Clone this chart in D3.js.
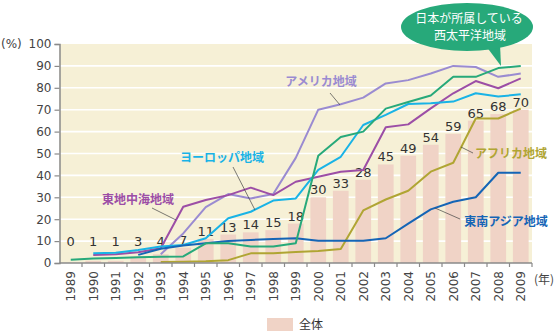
<!DOCTYPE html>
<html><head><meta charset="utf-8">
<script src="https://cdn.jsdelivr.net/npm/d3@7"></script>
<style>
html,body{margin:0;padding:0;background:#fff;}
svg{display:block;}
</style></head>
<body>
<svg id="chart" width="558" height="334"></svg>
<script>
// ---------- data ----------
const years = ['1989','1990','1991','1992','1993','1994','1995','1996','1997','1998','1999','2000','2001','2002','2003','2004','2005','2006','2007','2008','2009'];
const totalValues = [0,1,1,3,4,7,11,13,14,15,18,30,33,38,45,49,54,59,65,68,70];
const totalLabels = ['0','1','1','3','4','7','11','13','14','15','18','30','33','28','45','49','54','59','65','68','70'];
const westernPacific = [1.5,2,2.3,2.6,2.9,3,9,9,7.5,7.5,9,49,57.5,60,70.5,73.5,76.5,85,85,89,90];
const americas = [null,null,null,null,4,13.5,25.5,31.5,29.5,31.5,48,70,72.5,75.5,82,83.5,86.5,90,89.5,85,86.5];
const eastMed = [null,3.7,4,4.9,6.7,25.7,28.8,31,34.4,31,37.1,39.4,41.7,42.5,62,63.3,70.6,77.5,83.1,79.8,84.3];
const europe = [null,4.4,4.7,5.9,7.5,8.2,11.3,20.4,23.4,28.5,29.5,42.5,48.5,63,67.6,72.6,72.9,73.7,77.5,76,77];
const africa = [null,null,null,null,0.5,0.6,0.8,1.3,4.4,4.5,5,5.5,6.4,24,29,33,41.7,45.8,66,66,70.5];
const seAsia = [null,null,null,3.7,6.5,8,9,10,10.5,11,11.3,10.2,10.2,10.2,11.3,18,24.5,28,30,41.2,41.2];
const yTicks = [0,10,20,30,40,50,60,70,80,90,100];

const seriesNames = ['アメリカ地域','東地中海地域','ヨーロッパ地域','アフリカ地域','東南アジア地域','西太平洋地域'];
const seriesColors = ['#9a8bd1','#9c4ea6','#19b3e6','#b0a533','#1565b6','#27a97a'];
const seriesValues = [americas, eastMed, europe, africa, seAsia, westernPacific];

// ---------- layout ----------
const svg = d3.select('#chart');
const pLeft = 59.5, pRight = 532, pTop = 44, pBottom = 263;
const x = d3.scaleBand().domain(years).range([pLeft, pRight]).padding(0);
const y = d3.scaleLinear().domain([0,100]).range([pBottom, pTop]);
const cx = d => x(d) + x.bandwidth()/2;
const numFont = '"DejaVu Sans", sans-serif';
const jpFont = '"Noto Sans CJK JP", sans-serif';

// plot background
svg.append('rect').attr('x', pLeft).attr('y', pTop).attr('width', pRight-pLeft).attr('height', pBottom-pTop).attr('fill', '#f6f0d6');

// gridlines
svg.append('g').selectAll('line').data(yTicks.filter(t => t > 0 && t < 100)).join('line')
  .attr('x1', pLeft).attr('x2', pRight).attr('y1', d => y(d)).attr('y2', d => y(d))
  .attr('stroke', '#ffffff').attr('stroke-width', 1.6);

// bars
const barW = x.bandwidth()*0.7;
svg.append('g').selectAll('rect').data(years).join('rect')
  .attr('x', (d) => cx(d) - barW/2)
  .attr('y', (d,i) => y(totalValues[i]))
  .attr('width', barW)
  .attr('height', (d,i) => y(0) - y(totalValues[i]))
  .attr('fill', '#f0d3c6');

// bar labels
svg.append('g').selectAll('text').data(years).join('text')
  .attr('x', d => cx(d))
  .attr('y', (d,i) => y(Math.max(totalValues[i], 6.5)) - 3)
  .attr('text-anchor', 'middle')
  .attr('font-family', numFont).attr('font-size', 13).attr('fill', '#333')
  .text((d,i) => totalLabels[i]);

// lines
const line = d3.line().defined(d => d.v != null).x(d => cx(d.year)).y(d => y(d.v));
seriesValues.forEach((vals, k) => {
  svg.append('path')
    .datum(years.map((yr, i) => ({year: yr, v: vals[i]})))
    .attr('d', line)
    .attr('fill', 'none')
    .attr('stroke', seriesColors[k])
    .attr('stroke-width', 2)
    .attr('stroke-linejoin', 'round');
});

// axes
const yAxis = svg.append('g').attr('transform', `translate(${pLeft},0)`)
  .call(d3.axisLeft(y).tickValues(yTicks).tickSize(5).tickPadding(3));
yAxis.select('.domain').attr('stroke', '#8a8a8a').attr('stroke-width', 1.5);
yAxis.selectAll('.tick line').attr('stroke', '#8a8a8a').attr('stroke-width', 1.2);
yAxis.selectAll('.tick text').attr('font-family', numFont).attr('font-size', 12).attr('fill', '#444');

const xAxisG = svg.append('g').attr('transform', `translate(0,${pBottom})`);
xAxisG.append('line').attr('x1', pLeft).attr('x2', pRight).attr('stroke', '#8a8a8a').attr('stroke-width', 1.5);
xAxisG.selectAll('line.tk').data(years).join('line').attr('class','tk')
  .attr('x1', d => x(d) + x.bandwidth()).attr('x2', d => x(d) + x.bandwidth())
  .attr('y1', 0).attr('y2', 4).attr('stroke', '#8a8a8a').attr('stroke-width', 1.2);
xAxisG.selectAll('text').data(years).join('text')
  .attr('transform', d => `translate(${cx(d)},8) rotate(-90)`)
  .attr('text-anchor', 'end').attr('dy', '0.36em')
  .attr('font-family', numFont).attr('font-size', 12).attr('fill', '#444')
  .text(d => d);

// axis titles
svg.append('text').attr('x', 1).attr('y', 48).attr('font-family', numFont).attr('font-size', 12).attr('fill', '#444').text('(%)');
svg.append('text').attr('x', 534).attr('y', 284).attr('font-family', jpFont).attr('font-size', 12).attr('fill', '#444').text('(年)');

// series annotations
const annots = [
  {k:0, tx:321, ty:86},
  {k:2, tx:222, ty:162},
  {k:1, tx:138, ty:204},
  {k:3, tx:511, ty:158},
  {k:4, tx:506, ty:226},
];
annots.forEach(a => {
  svg.append('text').attr('x', a.tx).attr('y', a.ty).attr('text-anchor', 'middle')
    .attr('font-family', jpFont).attr('font-weight', 'bold').attr('font-size', 12)
    .attr('fill', seriesColors[a.k]).text(seriesNames[a.k]);
});
// leader lines (from label to the series line)
const leaders = [
  [330,93,340,105],[233,167,255,210],[152,208,176,220],[461,147,473,153],[435,208,460,219]
];
svg.append('g').selectAll('line').data(leaders).join('line')
  .attr('x1', d => d[0]).attr('y1', d => d[1]).attr('x2', d => d[2]).attr('y2', d => d[3])
  .attr('stroke', '#444').attr('stroke-width', 0.7);

// callout bubble
const bubble = svg.append('g');
bubble.append('path').attr('d', 'M486,46 L501,66 L500,44 Z').attr('fill', '#27a97a');
bubble.append('ellipse').attr('cx', 467).attr('cy', 27).attr('rx', 66).attr('ry', 24).attr('fill', '#27a97a');
bubble.append('text').attr('x', 469).attr('y', 22.5).attr('text-anchor', 'middle')
  .attr('font-family', jpFont).attr('font-size', 12).attr('fill', '#fff').text('日本が所属している');
bubble.append('text').attr('x', 470).attr('y', 39.5).attr('text-anchor', 'middle')
  .attr('font-family', jpFont).attr('font-size', 12).attr('fill', '#fff').text('西太平洋地域');

// legend
svg.append('rect').attr('x', 267).attr('y', 318).attr('width', 26).attr('height', 13).attr('fill', '#f0d3c6');
svg.append('text').attr('x', 299).attr('y', 329).attr('font-family', jpFont).attr('font-size', 12).attr('fill', '#333').text('全体');
</script>
</body></html>
